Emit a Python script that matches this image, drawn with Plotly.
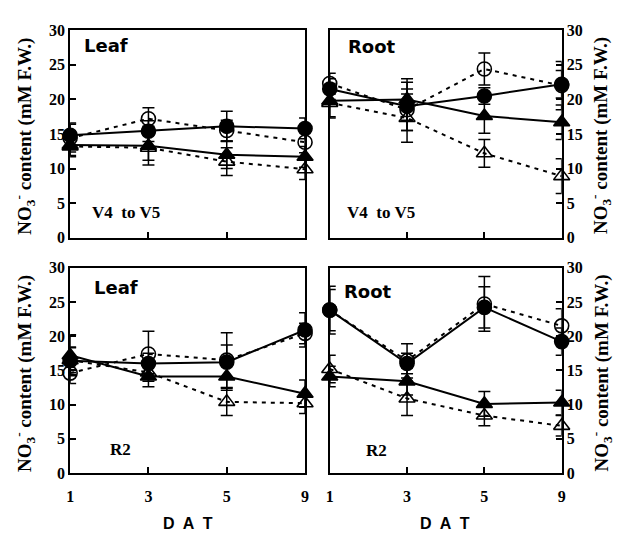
import plotly.graph_objects as go

days = ["1", "3", "5", "9"]
xpos = [0, 1, 2, 3]

# Panel: Leaf, V4 to V5
leaf_v_fc = [14.8, 15.4, 16.1, 15.8]
leaf_v_fc_err = [1.8, 1.5, 2.2, 1.5]
leaf_v_oc = [14.4, 17.2, 15.5, 13.8]
leaf_v_oc_err = [2.0, 1.6, 1.5, 1.5]
leaf_v_ft = [13.4, 13.3, 12.0, 11.7]
leaf_v_ft_err = [1.5, 2.8, 2.0, 1.5]
leaf_v_ot = [13.2, 13.0, 11.0, 9.9]
leaf_v_ot_err = [1.5, 1.8, 2.0, 1.5]

# Panel: Root, V4 to V5
root_v_fc = [21.5, 19.0, 20.5, 22.2]
root_v_fc_err = [1.5, 3.5, 1.2, 2.0]
root_v_oc = [22.3, 18.5, 24.4, 22.0]
root_v_oc_err = [1.5, 3.0, 2.3, 3.5]
root_v_ft = [19.8, 20.0, 17.6, 16.7]
root_v_ft_err = [2.5, 3.0, 2.5, 2.5]
root_v_ot = [19.5, 17.3, 12.2, 8.9]
root_v_ot_err = [2.0, 3.5, 2.0, 2.5]

# Panel: Leaf, R2
leaf_r_fc = [16.4, 16.0, 16.2, 20.9]
leaf_r_fc_err = [2.0, 1.5, 2.5, 2.5]
leaf_r_oc = [14.6, 17.4, 16.5, 20.4]
leaf_r_oc_err = [1.5, 3.3, 4.0, 1.5]
leaf_r_ft = [17.2, 14.1, 14.1, 11.6]
leaf_r_ft_err = [3.0, 1.5, 2.0, 2.0]
leaf_r_ot = [16.5, 14.7, 10.4, 10.2]
leaf_r_ot_err = [1.8, 1.3, 2.0, 1.5]

# Panel: Root, R2
root_r_fc = [23.8, 16.0, 24.2, 19.2]
root_r_fc_err = [3.5, 1.5, 3.0, 2.0]
root_r_oc = [23.8, 16.4, 24.7, 21.5]
root_r_oc_err = [3.0, 2.5, 4.0, 2.5]
root_r_ft = [14.1, 13.4, 10.1, 10.3]
root_r_ft_err = [1.5, 2.0, 1.8, 1.8]
root_r_ot = [15.2, 10.9, 8.4, 6.9]
root_r_ot_err = [2.0, 2.5, 1.5, 1.5]

yticks = [0, 5, 10, 15, 20, 25, 30]

panels = [
    ("x", "y", "Leaf", "V4  to V5",
     [(leaf_v_fc, leaf_v_fc_err), (leaf_v_oc, leaf_v_oc_err), (leaf_v_ft, leaf_v_ft_err), (leaf_v_ot, leaf_v_ot_err)]),
    ("x2", "y2", "Root", "V4  to V5",
     [(root_v_fc, root_v_fc_err), (root_v_oc, root_v_oc_err), (root_v_ft, root_v_ft_err), (root_v_ot, root_v_ot_err)]),
    ("x3", "y3", "Leaf", "R2",
     [(leaf_r_fc, leaf_r_fc_err), (leaf_r_oc, leaf_r_oc_err), (leaf_r_ft, leaf_r_ft_err), (leaf_r_ot, leaf_r_ot_err)]),
    ("x4", "y4", "Root", "R2",
     [(root_r_fc, root_r_fc_err), (root_r_oc, root_r_oc_err), (root_r_ft, root_r_ft_err), (root_r_ot, root_r_ot_err)]),
]

styles = [
    dict(symbol="circle", dash="solid", size=14),
    dict(symbol="circle-open", dash="4px,5px", size=14),
    dict(symbol="triangle-up", dash="solid", size=14),
    dict(symbol="triangle-up-open", dash="4px,5px", size=14),
]

fig = go.Figure()
for xa, ya, name, stage, series in panels:
    for (vals, errs), st in zip(series, styles):
        fig.add_trace(go.Scatter(
            x=xpos, y=vals, xaxis=xa, yaxis=ya, mode="lines+markers",
            line=dict(color="black", width=2, dash=st["dash"]),
            marker=dict(symbol=st["symbol"], size=st["size"], color="black",
                        line=dict(color="black", width=1.6)),
            error_y=dict(type="data", array=errs, visible=True, color="black",
                         thickness=1.5, width=6),
            cliponaxis=False, showlegend=False))

W, H = 618, 547
def fx(px):
    return px / W
def fy(px):
    return 1 - px / H

xdom_l = [fx(67), fx(305)]
xdom_r = [fx(330), fx(565)]
ydom_t = [fy(237), fy(23)]
ydom_b = [fy(480), fy(268)]

tickfont = dict(family="Liberation Serif", size=16, color="black", weight="bold")

def xaxis(dom, anchor, labels):
    return dict(domain=dom, anchor=anchor, range=[0, 3], tickvals=xpos,
                ticktext=days, showticklabels=labels, ticks="inside",
                ticklen=6, tickwidth=1.5, tickcolor="black", showline=True,
                linecolor="black", linewidth=1.8, mirror=True, showgrid=False,
                zeroline=False, tickfont=tickfont, fixedrange=True,
                ticklabelstandoff=8)

def yaxis(dom, anchor, side):
    return dict(domain=dom, anchor=anchor, range=[0, 30], tickvals=yticks,
                side=side, ticks="inside", ticklen=6, tickwidth=1.5,
                tickcolor="black", showline=True, linecolor="black",
                linewidth=1.8, mirror=True, showgrid=False, zeroline=False,
                tickfont=tickfont, fixedrange=True)

fig.update_layout(
    width=W, height=H, margin=dict(l=0, r=0, t=0, b=0),
    paper_bgcolor="white", plot_bgcolor="white",
    xaxis=xaxis(xdom_l, "y", False), yaxis=yaxis(ydom_t, "x", "left"),
    xaxis2=xaxis(xdom_r, "y2", False), yaxis2=yaxis(ydom_t, "x2", "right"),
    xaxis3=xaxis(xdom_l, "y3", True), yaxis3=yaxis(ydom_b, "x3", "left"),
    xaxis4=xaxis(xdom_r, "y4", True), yaxis4=yaxis(ydom_b, "x4", "right"),
)

ann = []
name_pos = [(79, 39), (346, 40), (89, 288), (342, 293)]
stage_pos = [(87, 211), (345, 211), (105, 456), (365, 457)]
for (xa, ya, name, stage, _), (nx, ny), (sx, sy) in zip(panels, name_pos, stage_pos):
    ann.append(dict(text="<b>%s</b>" % name, x=fx(nx), y=fy(ny), xref="paper", yref="paper",
                    xanchor="left", yanchor="middle", showarrow=False,
                    font=dict(family="DejaVu Sans", size=18, color="black")))
    ann.append(dict(text="<b>%s</b>" % stage, x=fx(sx), y=fy(sy), xref="paper", yref="paper",
                    xanchor="left", yanchor="middle", showarrow=False,
                    font=dict(family="Liberation Serif", size=17, color="black")))

ytitle = "<b>NO<sub>3</sub><sup>-</sup> content (mM F.W.)</b>"
for xp, yc in [(21, 132), (21, 377), (605, 132), (605, 377)]:
    ann.append(dict(text=ytitle, x=fx(xp), y=fy(yc), xref="paper", yref="paper",
                    xanchor="center", yanchor="middle", textangle=-90, showarrow=False,
                    font=dict(family="Liberation Serif", size=19, color="black")))

for xc in [186, 447]:
    ann.append(dict(text="<b>D  A  T</b>", x=fx(xc), y=fy(532), xref="paper", yref="paper",
                    xanchor="center", yanchor="middle", showarrow=False,
                    font=dict(family="Liberation Sans", size=16, color="black")))

fig.update_layout(annotations=ann)
fig.write_html("out.html")
